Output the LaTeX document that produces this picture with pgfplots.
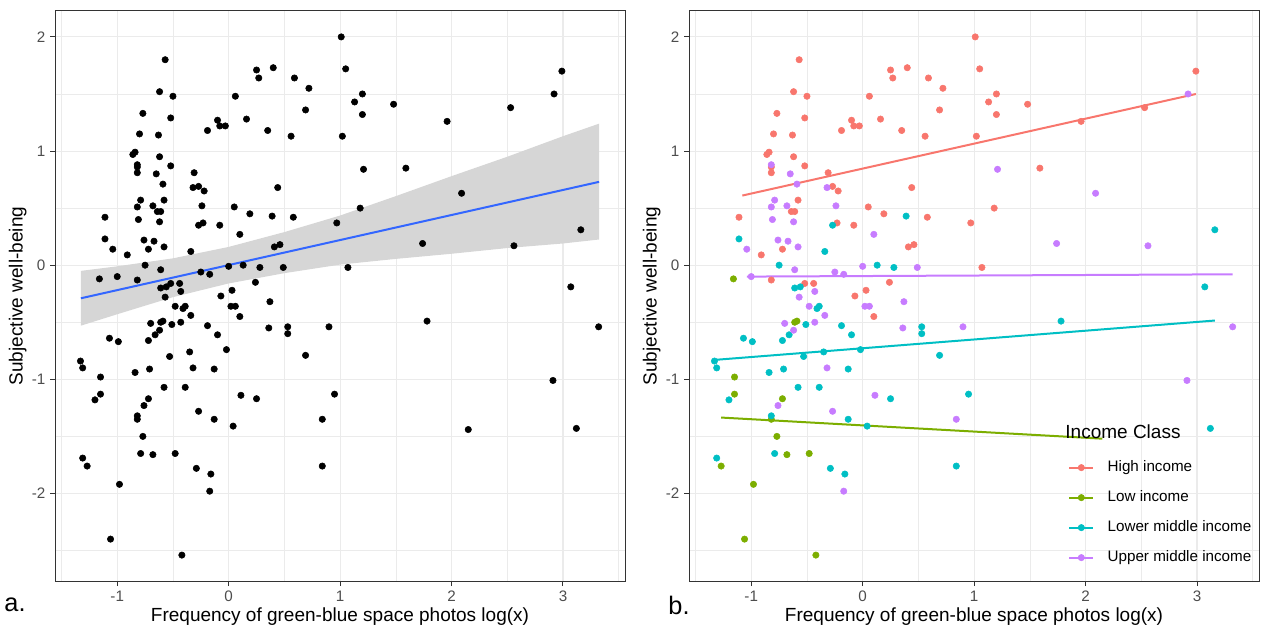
\documentclass[border=0pt]{standalone}
\usepackage{fontspec}
\setmainfont{Liberation Sans}
\usepackage{pgfplots}
\usepackage{pgfplotstable}
\pgfplotsset{compat=1.18}
\definecolor{hicol}{HTML}{F8766D}
\definecolor{locol}{HTML}{7CAE00}
\definecolor{lmcol}{HTML}{00BFC4}
\definecolor{umcol}{HTML}{C77CFF}
\definecolor{fitblue}{HTML}{3366FF}
\definecolor{bandgray}{HTML}{D6D6D6}
\definecolor{gridgray}{HTML}{EBEBEB}
\definecolor{framegray}{HTML}{333333}
\definecolor{ticklab}{HTML}{4D4D4D}

\pgfplotstableread{
x y
-0.57 1.80
-0.62 1.52
-0.50 1.48
-0.77 1.33
-0.52 1.29
-0.10 1.27
-0.08 1.22
-0.03 1.22
-0.19 1.18
-0.80 1.15
-0.63 1.14
-0.86 0.97
-0.84 0.99
-0.62 0.95
-0.52 0.87
-0.82 0.86
-0.82 0.81
-0.31 0.81
-0.27 0.69
-0.22 0.65
1.01 2.00
0.25 1.71
0.40 1.73
0.27 1.64
0.59 1.64
1.05 1.72
0.72 1.55
0.06 1.48
1.20 1.50
1.13 1.43
1.48 1.41
0.69 1.36
1.20 1.32
0.16 1.28
0.35 1.18
0.56 1.13
1.02 1.13
1.59 0.85
0.44 0.68
2.99 1.70
2.53 1.38
1.96 1.26
-0.58 0.57
0.05 0.51
-0.64 0.47
-0.61 0.47
-1.11 0.42
-0.23 0.37
-0.08 0.35
-0.72 0.14
-0.91 0.09
-0.82 -0.13
-0.52 -0.16
-0.44 -0.16
-0.07 -0.27
0.03 -0.22
0.19 0.45
0.58 0.42
0.97 0.37
1.18 0.50
0.41 0.16
0.46 0.18
1.07 -0.02
0.24 -0.15
0.10 -0.45
}\hitab

\pgfplotstableread{
x y
-1.16 -0.12
-0.61 -0.50
-0.59 -0.49
-1.15 -0.98
-1.15 -1.13
-0.72 -1.17
-0.82 -1.35
-0.77 -1.50
-1.27 -1.76
-0.68 -1.66
-0.48 -1.65
-0.98 -1.92
-1.06 -2.40
-0.42 -2.54
}\lotab

% low-income point hidden under the legend title in panel b
\pgfplotstableread{
x y
2.15 -1.44
}\loextra

\pgfplotstableread{
x y
-0.27 0.35
-1.11 0.23
-0.34 0.12
-0.75 0.00
-0.61 -0.20
-0.56 -0.19
-0.41 -0.38
-0.39 -0.36
-0.51 -0.52
-0.19 -0.53
-0.66 -0.61
-0.10 -0.61
-1.07 -0.64
-0.99 -0.67
-0.72 -0.66
-0.53 -0.80
-0.35 -0.76
-0.02 -0.74
-1.33 -0.84
-1.31 -0.90
-0.84 -0.94
-0.71 -0.91
-0.13 -0.91
-0.58 -1.07
-0.39 -1.07
0.39 0.43
0.13 0.00
0.28 -0.02
0.53 -0.54
0.53 -0.60
0.69 -0.79
3.16 0.31
3.07 -0.19
1.78 -0.49
-1.20 -1.18
-0.82 -1.32
-0.13 -1.35
0.04 -1.41
-1.31 -1.69
-0.79 -1.65
-0.29 -1.78
-0.16 -1.83
0.25 -1.17
0.95 -1.13
0.84 -1.76
3.12 -1.43
}\lmtab

\pgfplotstableread{
x y
-0.82 0.88
-0.65 0.80
-0.59 0.71
-0.32 0.68
1.21 0.84
2.92 1.50
2.09 0.63
-0.79 0.57
-0.82 0.51
-0.68 0.52
-0.24 0.52
-0.81 0.40
-0.62 0.38
-0.76 0.22
-0.67 0.21
-0.58 0.16
-1.04 0.14
-0.61 -0.04
-0.25 -0.06
-0.17 -0.08
0.00 -0.01
-1.00 -0.10
-0.43 -0.23
-0.57 -0.28
0.02 -0.36
0.06 -0.36
-0.48 -0.36
-0.34 -0.44
-0.70 -0.51
-0.43 -0.50
-0.62 -0.57
-0.32 -0.90
0.10 0.27
0.49 -0.02
0.37 -0.32
0.36 -0.55
0.90 -0.54
1.74 0.19
2.56 0.17
3.32 -0.54
2.91 -1.01
-0.76 -1.23
-0.27 -1.28
-0.17 -1.98
0.11 -1.14
0.84 -1.35
}\umtab

\pgfplotsset{
 panel/.style={
  scale only axis, width=427.5pt, height=427.5pt,
  xmin=-1.5585, xmax=3.5565, ymin=-2.767, ymax=2.227,
  xtick={-1,0,1,2,3}, xticklabels={-1,0,1,2,3},
  ytick={-2,-1,0,1,2}, yticklabels={-2,-1,0,1,2},
  minor xtick={-1.5,-0.5,0.5,1.5,2.5,3.5},
  minor ytick={-2.5,-1.5,-0.5,0.5,1.5},
  grid=both,
  major grid style={gridgray, line width=0.8pt},
  minor grid style={gridgray, line width=0.4pt},
  axis line style={framegray, line width=0.75pt},
  tick align=outside, tick pos=left,
  major tick length=3.75pt, minor tick length=0pt,
  tick style={framegray, line width=0.75pt},
  tick label style={font=\fontsize{11.4}{13}\selectfont, text=ticklab},
  label style={font=\fontsize{14.25}{17}\selectfont, text=black},
  xlabel={Frequency of green-blue space photos log(x)},
  ylabel={Subjective well-being},
  ylabel style={yshift=-3pt},
  xlabel style={yshift=2pt},
 },
 pts/.style={only marks, mark=*, mark size=2.4pt, forget plot},
}

\begin{document}
\begin{tikzpicture}
\path[use as bounding box] (0pt,0pt) rectangle (952.5pt,474pt);
\begin{axis}[panel, at={(41.25pt,38.25pt)}, anchor=south west]
\addplot[fill=bandgray, draw=none, forget plot] coordinates {
(-1.326,-0.53) (-1.0,-0.43) (-0.5,-0.28) (0,-0.16) (0.5,-0.07) (1.0,0.005)
(1.5,0.055) (2.0,0.10) (2.5,0.15) (3.0,0.19) (3.324,0.225)
(3.324,1.24) (3.0,1.13) (2.5,0.95) (2.0,0.78) (1.5,0.605) (1.0,0.435)
(0.5,0.29) (0,0.16) (-0.5,0.06) (-1.0,-0.01) (-1.326,-0.05)} -- cycle;
\addplot[pts, black] table {\hitab};
\addplot[pts, black] table {\lotab};
\addplot[pts, black] table {\loextra};
\addplot[pts, black] table {\lmtab};
\addplot[pts, black] table {\umtab};
\addplot[fitblue, line width=1.5pt, forget plot] coordinates {(-1.326,-0.29) (3.324,0.73)};
\end{axis}
\begin{axis}[panel, at={(516.75pt,38.25pt)}, anchor=south west,
  legend style={at={(axis cs:1.843,-1.71)}, anchor=north west, draw=none, fill=none,
    font=\fontsize{11.4}{13}\selectfont, inner sep=0pt, row sep=12pt, column sep=10pt,
    nodes={inner sep=0pt, text height=8.2pt, text depth=2.3pt}},
  legend cell align=left,
  legend image code/.code={\draw[#1, line width=1.5pt] (0pt,0pt) -- (18pt,0pt); \fill[#1] (9pt,0pt) circle (2.4pt);}]
\addlegendimage{hicol}\addlegendentry{High income}
\addlegendimage{locol}\addlegendentry{Low income}
\addlegendimage{lmcol}\addlegendentry{Lower middle income}
\addlegendimage{umcol}\addlegendentry{Upper middle income}
\addplot[pts, hicol] table {\hitab};
\addplot[pts, locol] table {\lotab};
\addplot[pts, lmcol] table {\lmtab};
\addplot[pts, umcol] table {\umtab};
\addplot[hicol, line width=1.5pt, forget plot] coordinates {(-1.08,0.61) (2.99,1.50)};
\addplot[locol, line width=1.5pt, forget plot] coordinates {(-1.27,-1.335) (2.15,-1.52)};
\addplot[lmcol, line width=1.5pt, forget plot] coordinates {(-1.33,-0.83) (3.16,-0.485)};
\addplot[umcol, line width=1.5pt, forget plot] coordinates {(-1.04,-0.10) (3.32,-0.08)};
\node[anchor=west, inner sep=0pt, font=\fontsize{14.25}{17}\selectfont] at (axis cs:1.817,-1.46) {Income Class};
\end{axis}
\node[font=\fontsize{19}{22}\selectfont] at (11.25pt,20.25pt) {a.};
\node[font=\fontsize{19}{22}\selectfont] at (509.25pt,20.25pt) {b.};
\end{tikzpicture}
\end{document}
